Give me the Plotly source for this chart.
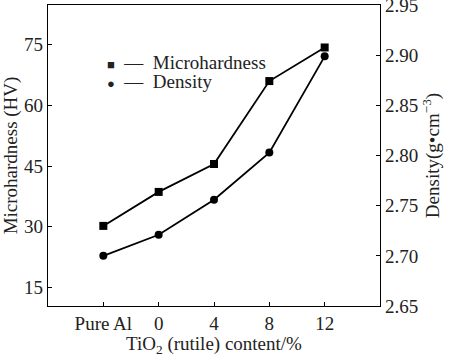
import plotly.graph_objects as go

categories = ["Pure Al", "0", "4", "8", "12"]
microhardness = [30.2, 38.6, 45.5, 66.0, 74.3]
density = [2.700, 2.721, 2.756, 2.803, 2.899]
left_ticks = [15, 30, 45, 60, 75]
right_ticks = [2.65, 2.70, 2.75, 2.80, 2.85, 2.90, 2.95]

FONT = "Liberation Serif, Times New Roman, serif"
x_idx = list(range(len(categories)))

fig = go.Figure()
fig.add_trace(go.Scatter(
    x=x_idx, y=microhardness, mode="lines+markers", name="Microhardness",
    line=dict(color="black", width=1.8),
    marker=dict(symbol="square", size=8, color="black"),
    showlegend=False, yaxis="y"))
fig.add_trace(go.Scatter(
    x=x_idx, y=density, mode="lines+markers", name="Density",
    line=dict(color="black", width=1.8),
    marker=dict(symbol="circle", size=8, color="black"),
    showlegend=False, yaxis="y2"))

axis_common = dict(showline=True, linecolor="black", linewidth=1.3,
                   ticks="inside", ticklen=4, tickcolor="black",
                   showgrid=False, zeroline=False, automargin=False,
                   tickfont=dict(family=FONT, size=19, color="#222"))

fig.update_layout(
    width=450, height=357,
    margin=dict(l=48, r=70, t=5, b=51),
    paper_bgcolor="white", plot_bgcolor="white",
    font=dict(family=FONT, size=19, color="#222"),
    xaxis=dict(**axis_common, range=[-1, 5], tickvals=x_idx, ticktext=categories,
               mirror=True,
               title=dict(text="TiO<sub>2</sub> (rutile) content/%", standoff=1,
                          font=dict(family=FONT, size=19))),
    yaxis=dict(**axis_common, range=[10.4, 84.8], tickvals=left_ticks,
               title=dict(text="Microhardness (HV)", standoff=4,
                          font=dict(family=FONT, size=19))),
    yaxis2=dict(**axis_common, range=[2.65, 2.9502], tickvals=right_ticks,
                tickformat=".2f", overlaying="y", side="right",
                ticklabeloverflow="allow",
                title=dict(text="Density(g•cm<sup>−3</sup>)", standoff=8,
                           font=dict(family=FONT, size=19))),
)

NB = "\u00a0"
legend_rows = [("<span style='font-size:13px'>■</span>" + NB * 2 + "—" + NB * 2 + "Microhardness", 62),
               ("<span style='font-size:13px'>●</span>" + NB * 2 + "—" + NB * 2 + "Density", 81)]
for text, ypx in legend_rows:
    fig.add_annotation(xref="paper", yref="paper",
                       x=(105 - 48) / 332, y=(306 - ypx) / 301,
                       xanchor="left", yanchor="middle", showarrow=False,
                       text=text, font=dict(family=FONT, size=19, color="#222"))

fig.write_html("out.html", config={"displayModeBar": False},
               post_script="document.body.style.margin='0';document.body.style.overflow='hidden';")
